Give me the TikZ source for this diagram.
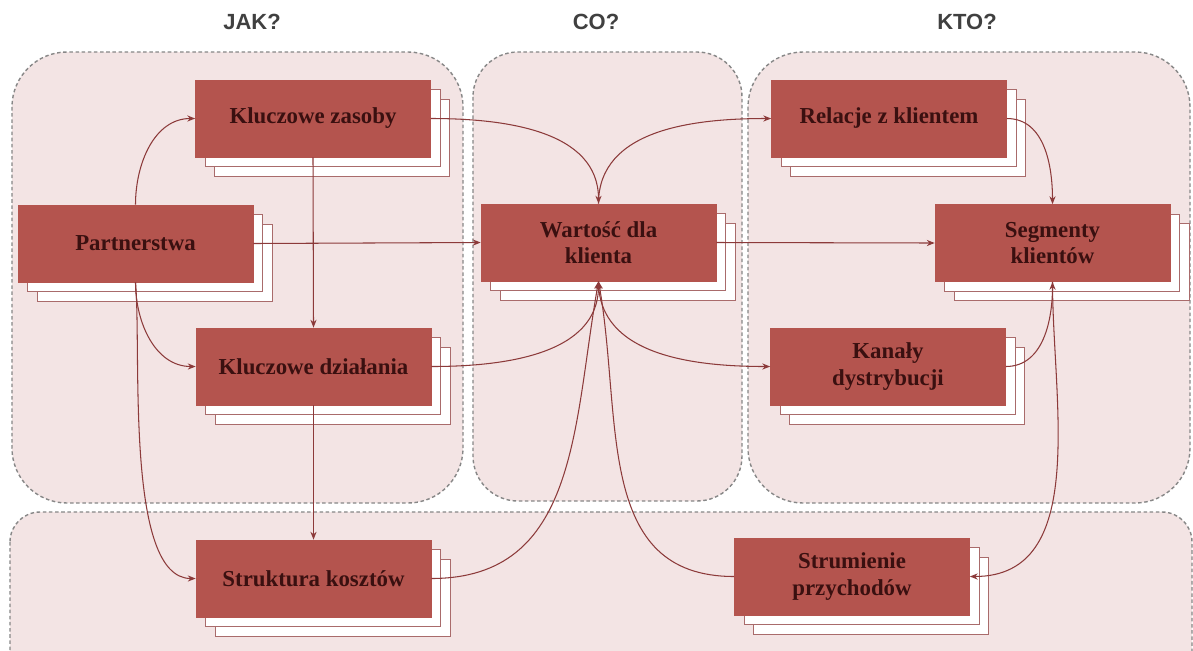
\documentclass[tikz,border=0pt]{standalone}
\usepackage{fontspec}
\setmainfont{Liberation Serif}
\newfontfamily\headfont{Liberation Sans}
\usetikzlibrary{shadows,arrows.meta}

\definecolor{blokred}{RGB}{180,84,78}
\definecolor{tekstred}{RGB}{58,16,16}
\definecolor{liniared}{RGB}{140,58,58}
\definecolor{tlopanel}{RGB}{243,228,228}
\definecolor{ramkaszara}{RGB}{135,135,135}

\tikzset{
  blok/.style={fill=blokred, draw=blokred, minimum width=4.7cm, minimum height=1.54cm,
    align=center, text=tekstred, font=\fontsize{13}{15}\selectfont\bfseries,
    double copy shadow={shadow xshift=0.19cm, shadow yshift=-0.19cm,
      fill=white, draw=liniared!75, line width=0.5pt}},
  panel/.style={fill=tlopanel, draw=ramkaszara, dash pattern=on 2pt off 1.5pt,
    line width=0.8pt, rounded corners=1.1cm},
  naglowek/.style={font=\headfont\bfseries\fontsize{12.5}{14}\selectfont, text=black!75},
  polacz/.style={->, draw=liniared, line width=0.6pt},
}

\begin{document}
\begin{tikzpicture}[x=0.02cm, y=-0.02cm, >={Stealth[length=4.5pt,width=3.5pt]}]
        \clip (0,0) rectangle (1193,650);
        \fill[white] (0,0) rectangle (1193,650);

        % Panele
        \draw[panel] (12,52) rectangle (463,503);
        \draw[panel, rounded corners=0.9cm] (473,52) rectangle (742,501);
        \draw[panel] (748,52) rectangle (1190,503);
        \draw[panel, rounded corners=0.6cm] (10,512) rectangle (1192,720);

        % Naglowki
        \node[naglowek] (jak) at (252,22) {JAK?};
        \node[naglowek] (co) at (596,22) {CO?};
        \node[naglowek] (kto) at (967,22) {KTO?};

        % Kolumna JAK?
        \node[blok] (zasoby) at (313,118.5) {Kluczowe zasoby};
        \node[blok] (partner) at (135.5,243.5) {Partnerstwa};
        \node[blok] (dzialania) at (313.5,366.5) {Kluczowe działania};

        % Kolumna CO?
        \node[blok] (wartosc) at (598.5,242.5) {Wartość dla\\klienta};

        % Kolumna KTO?
        \node[blok] (relacje) at (889,118.5) {Relacje z klientem};
        \node[blok] (segmenty) at (1052.5,243) {Segmenty\\klientów};
        \node[blok] (kanaly) at (888,366.5) {Kanały\\dystrybucji};

        % Dolny pas
        \node[blok] (koszty) at (313.5,578.5) {Struktura kosztów};
        \node[blok] (przychody) at (852,576.5) {Strumienie\\przychodów};

        % Polaczenia
        \draw[polacz] (partner.north) to[out=90, in=180] (zasoby.west);
        \draw[polacz] (partner.south) to[out=-90, in=180] (dzialania.west);
        \draw[polacz] (partner.south) to[out=-85, in=180, looseness=0.6] (koszty.west);
        \draw[polacz] (partner.east) -- (wartosc.west);
        \draw[polacz] (zasoby.south) -- (dzialania.north);
        \draw[polacz] (dzialania.south) -- (koszty.north);
        \draw[polacz] (zasoby.east) to[out=0, in=90] (wartosc.north);
        \draw[polacz] (wartosc.north) to[out=90, in=180] (relacje.west);
        \draw[polacz] (wartosc.east) -- (segmenty.west);
        \draw[polacz] (relacje.east) to[out=0, in=90] (segmenty.north);
        \draw[polacz] (dzialania.east) to[out=0, in=-90] (wartosc.south);
        \draw[polacz] (wartosc.south) to[out=-90, in=180] (kanaly.west);
        \draw[polacz] (koszty.east) to[out=0, in=-100, looseness=1.1] (wartosc.south);
        \draw[polacz] (przychody.west) to[out=180, in=-80, looseness=1.1] (wartosc.south);
        \draw[polacz] (kanaly.east) to[out=0, in=-90] (segmenty.south);
        \draw[polacz] (segmenty.south) to[out=-90, in=0] (przychody.east);
\end{tikzpicture}
\end{document}
